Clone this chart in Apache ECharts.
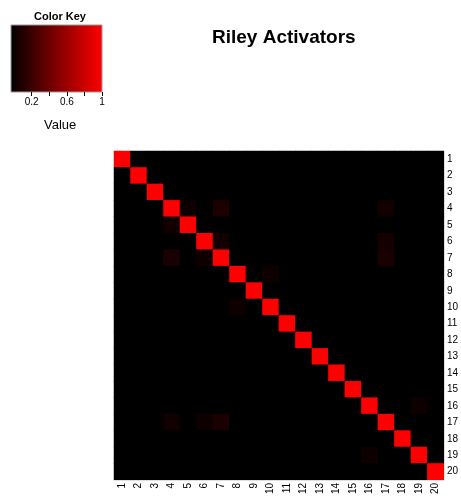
<!DOCTYPE html>
<html>
<head>
<meta charset="utf-8">
<script src="https://cdn.jsdelivr.net/npm/echarts@6/dist/echarts.min.js"></script>
<style>
  html, body { margin: 0; padding: 0; background: #fff; }
  #chart { width: 461px; height: 497px; }
</style>
</head>
<body>
<div id="chart"></div>
<script>
// row / column labels of the matrix
const labels = ['1','2','3','4','5','6','7','8','9','10','11','12','13','14','15','16','17','18','19','20'];

// non-zero cells: [row, col, value] (1-based)
const cells = [
  [1,1,1],[2,2,1],[3,3,1],[4,4,1],[5,5,1],[6,6,1],[7,7,1],[8,8,1],[9,9,1],[10,10,1],
  [11,11,1],[12,12,1],[13,13,1],[14,14,1],[15,15,1],[16,16,1],[17,17,1],[18,18,1],[19,19,1],[20,20,1],
  [4,5,0.06],[4,7,0.11],[4,17,0.07],
  [5,4,0.07],
  [6,7,0.07],[6,17,0.08],
  [7,4,0.1],[7,6,0.06],[7,17,0.1],
  [8,10,0.06],
  [10,8,0.06],
  [16,19,0.06],
  [17,4,0.07],[17,6,0.06],[17,7,0.1],
  [19,16,0.06]
];

// colour key
const keyRange = [-0.035, 1];
const keyTicks = [0.2, 0.4, 0.6, 0.8, 1];
const keyLabels = [0.2, 0.6, 1];

const lookup = {};
cells.forEach(c => { lookup[c[0] + '_' + c[1]] = c[2]; });
const data = [];
for (let r = 0; r < labels.length; r++) {
  for (let c = 0; c < labels.length; c++) {
    const v = lookup[(r + 1) + '_' + (c + 1)] || 0;
    data.push([c, r, v]);
  }
}

const font = 'Liberation Sans, Arial, sans-serif';
const chart = echarts.init(document.getElementById('chart'));
chart.setOption({
  backgroundColor: '#fff',
  animation: false,
  title: [
    { text: 'Riley Activators', left: 207, top: 23,
      textStyle: { fontFamily: font, fontSize: 19, fontWeight: 'bold', color: '#000' } },
    { text: 'Color Key', left: 29, top: 6,
      textStyle: { fontFamily: font, fontSize: 11, fontWeight: 'bold', color: '#000' } },
    { text: 'Value', left: 39, top: 114,
      textStyle: { fontFamily: font, fontSize: 13, fontWeight: 'normal', color: '#000' } }
  ],
  grid: [
    { left: 114, top: 151, width: 333, height: 333, show: true, borderWidth: 0, backgroundColor: '#000' },
    { left: 11, top: 25, width: 91, height: 67, show: true, borderColor: '#999', borderWidth: 1,
      backgroundColor: new echarts.graphic.LinearGradient(0, 0, 1, 0, [
        { offset: 0, color: '#000000' }, { offset: 1, color: '#ff0000' }
      ]) }
  ],
  xAxis: [
    { type: 'category', data: labels, gridIndex: 0, position: 'bottom',
      axisLine: { show: false }, axisTick: { show: false }, splitLine: { show: false },
      axisLabel: { rotate: 90, fontFamily: font, fontSize: 10, color: '#000', margin: 3, interval: 0 } },
    { type: 'value', gridIndex: 1, min: keyRange[0], max: keyRange[1], position: 'bottom',
      axisLine: { show: false }, splitLine: { show: false },
      axisTick: { show: true, length: 4, lineStyle: { color: '#000' }, customValues: keyTicks },
      axisLabel: { fontFamily: font, fontSize: 10, color: '#000', margin: 5, customValues: keyLabels } }
  ],
  yAxis: [
    { type: 'category', data: labels, gridIndex: 0, position: 'right', inverse: true,
      axisLine: { show: false }, axisTick: { show: false }, splitLine: { show: false },
      axisLabel: { fontFamily: font, fontSize: 10, color: '#000', margin: 3, interval: 0 } },
    { type: 'value', gridIndex: 1, show: false }
  ],
  visualMap: {
    show: false, min: 0, max: 1, seriesIndex: 0,
    inRange: { color: ['#000000', '#ff0000'] }
  },
  series: [
    { type: 'heatmap', xAxisIndex: 0, yAxisIndex: 0, data: data,
      itemStyle: { borderWidth: 0 }, emphasis: { disabled: true } }
  ]
});
</script>
</body>
</html>
